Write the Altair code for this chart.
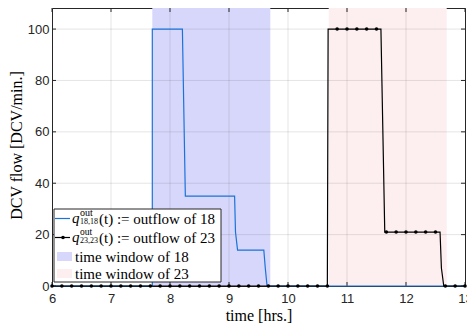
import altair as alt
import pandas as pd

# ---- data ----
x_ticks = [6, 7, 8, 9, 10, 11, 12, 13]
y_ticks = [0, 20, 40, 60, 80, 100]

# outflow of 18 (blue line)
t18 = [6.0, 7.70, 7.70, 8.21, 8.26, 9.095, 9.11, 9.145, 9.59, 9.615, 9.645, 13.0]
q18 = [0, 0, 100, 100, 35, 35, 21, 14, 14, 7, 0, 0]

# outflow of 23 (black line)
t23 = [6.0, 10.667, 10.68, 11.575, 11.64, 12.577, 12.60, 12.64, 13.0]
q23 = [0, 0, 100, 100, 21, 21, 7, 0, 0]

# outflow of 23 markers (every 10 minutes)
mark_t = [6.0, 6.167, 6.333, 6.5, 6.667, 6.833, 7.0, 7.167, 7.333, 7.5, 7.667, 7.833,
          8.0, 8.167, 8.333, 8.5, 8.667, 8.833, 9.0, 9.167, 9.333, 9.5, 9.667, 9.833,
          10.0, 10.167, 10.333, 10.5, 10.667, 10.833, 11.0, 11.167, 11.333, 11.5,
          11.667, 11.833, 12.0, 12.167, 12.333, 12.5, 12.667, 12.833, 13.0]
mark_q = [0, 0, 0, 0, 0, 0, 0, 0, 0, 0, 0, 0,
          0, 0, 0, 0, 0, 0, 0, 0, 0, 0, 0, 0,
          0, 0, 0, 0, 0, 100, 100, 100, 100, 100,
          21, 21, 21, 21, 21, 21, 0, 0, 0]

# time windows
win_start = [7.70, 10.69]
win_end = [9.70, 12.69]
win_name = ["time window of 18", "time window of 23"]

legend_text = ["(t) := outflow of 18", "(t) := outflow of 23",
               "time window of 18", "time window of 23"]
legend_sub = ["18,18", "23,23"]

# ---- styling ----
W, H = 413, 278
BLUE = "#1a73d9"
BLUE_FILL = "#d7d7fb"
PINK_FILL = "#fdeff0"
AX = "#262626"
SERIF = "Liberation Serif"
SANS = "Liberation Sans"

xs = alt.Scale(domain=[6, 13], nice=False, zero=False)
ys = alt.Scale(domain=[0, 108.2], nice=False)

x_axis = alt.Axis(values=x_ticks, format="d", grid=False, ticks=False, tickSize=0,
                  domain=False, labelFlush=False,
                  labelFont=SANS, labelFontSize=13, labelColor=AX, labelPadding=6,
                  title="time [hrs.]", titleFont=SERIF, titleFontSize=16,
                  titleFontWeight="normal", titleColor="black",
                  titleY=29, titleBaseline="middle")
y_axis = alt.Axis(values=y_ticks, format="d", grid=False, ticks=False, tickSize=0,
                  domain=False, labelFlush=False,
                  labelFont=SANS, labelFontSize=13, labelColor=AX, labelPadding=3,
                  title="DCV flow [DCV/min.]", titleFont=SERIF, titleFontSize=16,
                  titleFontWeight="normal", titleColor="black",
                  titleX=-36, titleY=137, titleBaseline="middle", titleAlign="center")

win_df = pd.DataFrame({"start": win_start, "end": win_end, "name": win_name})
windows = alt.Chart(win_df).mark_rect().encode(
    x=alt.X("start:Q", scale=xs, axis=x_axis),
    x2="end:Q",
    y=alt.value(0),
    y2=alt.value(H),
    color=alt.Color("name:N", scale=alt.Scale(domain=win_name, range=[BLUE_FILL, PINK_FILL]),
                    legend=None),
)

# y axis carrier (invisible)
yaxis_df = pd.DataFrame({"y": y_ticks})
y_carrier = alt.Chart(yaxis_df).mark_rule(opacity=0).encode(
    y=alt.Y("y:Q", scale=ys, axis=y_axis))

gx_df = pd.DataFrame({"x": x_ticks[1:-1]})
gy_df = pd.DataFrame({"y": y_ticks[1:]})
grid_x = alt.Chart(gx_df).mark_rule(color=AX, opacity=0.12, strokeWidth=1).encode(
    x=alt.X("x:Q", scale=xs))
grid_y = alt.Chart(gy_df).mark_rule(color=AX, opacity=0.12, strokeWidth=1).encode(
    y=alt.Y("y:Q", scale=ys))

tx_df = pd.DataFrame({"x": x_ticks})
ty_df = pd.DataFrame({"y": y_ticks})
tick_top = alt.Chart(tx_df).mark_rule(color=AX, strokeWidth=1).encode(
    x=alt.X("x:Q", scale=xs), y=alt.value(0), y2=alt.value(4))
tick_bot = alt.Chart(tx_df).mark_rule(color=AX, strokeWidth=1).encode(
    x=alt.X("x:Q", scale=xs), y=alt.value(H), y2=alt.value(H - 4))
tick_left = alt.Chart(ty_df).mark_rule(color=AX, strokeWidth=1).encode(
    y=alt.Y("y:Q", scale=ys), x=alt.value(0), x2=alt.value(4))
tick_right = alt.Chart(ty_df).mark_rule(color=AX, strokeWidth=1).encode(
    y=alt.Y("y:Q", scale=ys), x=alt.value(W), x2=alt.value(W - 4))

df18 = pd.DataFrame({"t": t18, "q": q18, "o": list(range(len(t18)))})
line18 = alt.Chart(df18).mark_line(color=BLUE, strokeWidth=1.2).encode(
    x=alt.X("t:Q", scale=xs), y=alt.Y("q:Q", scale=ys), order="o:Q")

df23 = pd.DataFrame({"t": t23, "q": q23, "o": list(range(len(t23)))})
line23 = alt.Chart(df23).mark_line(color="black", strokeWidth=1.2).encode(
    x=alt.X("t:Q", scale=xs), y=alt.Y("q:Q", scale=ys), order="o:Q")

dfm = pd.DataFrame({"t": mark_t, "q": mark_q})
pts23 = alt.Chart(dfm).mark_circle(color="black", size=13, opacity=1).encode(
    x=alt.X("t:Q", scale=xs), y=alt.Y("q:Q", scale=ys))

# ---- legend (drawn by hand) ----
one = pd.DataFrame({"k": [0]})
def txt(s, x, y, size=15, style="normal"):
    return alt.Chart(one).mark_text(text=s, font=SERIF, fontSize=size, fontStyle=style,
                                    align="left", baseline="middle", color="black").encode(
        x=alt.value(x), y=alt.value(y))

B = H - 4          # legend bottom
T = B - 73         # legend top
leg_box = alt.Chart(one).mark_rect(fill="white", stroke=AX, strokeWidth=1).encode(
    x=alt.value(2), x2=alt.value(169), y=alt.value(T), y2=alt.value(B))
leg_l1 = alt.Chart(one).mark_rule(color=BLUE, strokeWidth=1.2).encode(
    x=alt.value(3), x2=alt.value(18), y=alt.value(T + 9.5))
leg_l2 = alt.Chart(one).mark_rule(color="black", strokeWidth=1.2).encode(
    x=alt.value(3), x2=alt.value(18), y=alt.value(T + 28.5))
leg_p2 = alt.Chart(one).mark_circle(color="black", size=13, opacity=1).encode(
    x=alt.value(11), y=alt.value(T + 28.5))
leg_s3 = alt.Chart(one).mark_rect(fill=BLUE_FILL).encode(
    x=alt.value(5), x2=alt.value(20), y=alt.value(T + 43), y2=alt.value(T + 52))
leg_s4 = alt.Chart(one).mark_rect(fill=PINK_FILL).encode(
    x=alt.value(5), x2=alt.value(20), y=alt.value(T + 60), y2=alt.value(T + 69))

legend_layers = [
    leg_box, leg_l1, leg_l2, leg_p2, leg_s3, leg_s4,
    txt("q", 20, T + 9, 15, "italic"), txt("out", 28, T + 4, 10), txt(legend_sub[0], 28, T + 12.5, 8),
    txt(legend_text[0], 47, T + 10),
    txt("q", 20, T + 28, 15, "italic"), txt("out", 28, T + 23, 9.5), txt(legend_sub[1], 28, T + 31.5, 8),
    txt(legend_text[1], 47, T + 29),
    txt(legend_text[2], 23, T + 47.5),
    txt(legend_text[3], 23, T + 64.5),
]

chart = alt.layer(
    windows, y_carrier, grid_x, grid_y,
    tick_top, tick_bot, tick_left, tick_right,
    line18, line23, pts23,
    *legend_layers
).properties(
    width=W, height=H,
    autosize=alt.AutoSizeParams(type="none"),
    padding={"left": 44, "top": 0, "right": 2, "bottom": 38},
).configure_view(stroke=AX, strokeWidth=1)

chart.save("out.html", embed_options={"renderer": "svg", "actions": False})
